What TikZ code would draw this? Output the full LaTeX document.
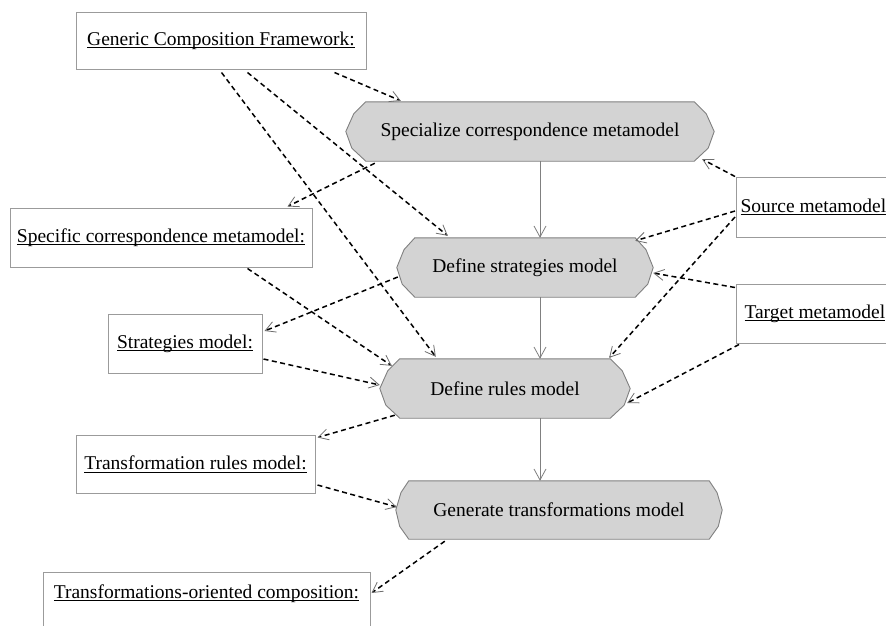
\documentclass[tikz,border=0pt]{standalone}
\usepackage{fontspec}
\setmainfont{Liberation Serif}
\usetikzlibrary{arrows.meta,calc,backgrounds}
\definecolor{actfillc}{RGB}{211,211,211}
\definecolor{actdrawc}{RGB}{128,128,128}
\definecolor{boxdrawc}{RGB}{155,155,155}
\definecolor{tipc}{RGB}{110,110,110}
\newcommand\myul[1]{\setbox0\hbox{#1}\rlap{\rule[-3pt]{\wd0}{0.8pt}}\box0}
\newcommand\actshape[2]{%
  \path[actbg] let \p1=(#1.north west), \p2=(#1.south east), \n2={\y1-\y2} in
   (\x1+#2pt,\y1) -- (\x2-#2pt,\y1) -- (\x2-0.4*#2pt,\y1-0.2*\n2*1pt) -- (\x2,\y1-0.5*\n2*1pt)
   -- (\x2-0.3*#2pt,\y1-0.78*\n2*1pt) -- (\x2-#2pt,\y2) -- (\x1+#2pt,\y2)
   -- (\x1+0.3*#2pt,\y1-0.78*\n2*1pt) -- (\x1,\y1-0.5*\n2*1pt) -- (\x1+0.4*#2pt,\y1-0.2*\n2*1pt) -- cycle;}
\begin{document}
\begin{tikzpicture}[x=1pt,y=-1pt,
  every node/.style={font=\fontsize{19.5}{22}\selectfont},
  act/.style={rectangle, inner sep=0pt},
  actbg/.style={fill=actfillc, draw=actdrawc, line width=0.9pt},
  box/.style={rectangle, draw=boxdrawc, fill=white, line width=1pt, inner sep=0pt},
  dep/.style={black, line width=1.5pt, dash pattern=on 5pt off 3.5pt,
    -{Straight Barb[length=10pt,width=11pt,line width=0.8pt,color=tipc]}},
  flow/.style={draw=actdrawc, line width=0.9pt,
    -{Straight Barb[length=11pt,width=12pt,line width=0.8pt]}}]
\useasboundingbox (0,0) rectangle (886,625);

% action states
\node[act, minimum width=368pt, minimum height=59pt] (spec) at (530,131.5) {Specialize correspondence metamodel};
\node[act, minimum width=256pt, minimum height=59pt] (strat) at (525,267.5) {Define strategies model};
\node[act, minimum width=250pt, minimum height=59pt] (rules) at (505,388.5) {Define rules model};
\node[act, minimum width=326pt, minimum height=58pt] (gen) at (559,510) {Generate transformations model};
\begin{scope}[on background layer]
  \fill[white] (0,0) rectangle (886,625);
  \actshape{spec}{20}
  \actshape{strat}{18}
  \actshape{rules}{20}
  \actshape{gen}{13}
\end{scope}

% object boxes
\node[box, minimum width=290pt, minimum height=57pt] (gcf) at (221,40.5) {\myul{Generic Composition Framework:}};
\node[box, minimum width=302pt, minimum height=59pt] (scm) at (161,237.5) {\myul{Specific correspondence metamodel:}};
\node[box, minimum width=154pt, minimum height=59pt] (sm) at (185,343.5) {\myul{Strategies model:}};
\node[box, minimum width=239pt, minimum height=58pt] (trm) at (195.5,464) {\myul{Transformation rules model:}};
\node[box, minimum width=327pt, minimum height=59pt, text height=13pt, text depth=20pt] (toc) at (206.5,601.5) {\myul{Transformations-oriented composition:}};
\node[box, anchor=west, inner xsep=4pt, minimum height=60pt] (src) at (736,207) {\myul{Source metamodels}};
\node[box, anchor=west, inner xsep=8pt, minimum height=59pt] (tgt) at (736,313.5) {\myul{Target metamodel}};

% control flow
\coordinate (vx) at (540,0);
\draw[flow] (spec.south -| vx) -- (strat.north -| vx);
\draw[flow] (strat.south -| vx) -- (rules.north -| vx);
\draw[flow] (rules.south -| vx) -- (gen.north -| vx);

% object flows
\draw[dep] ($(gcf.south west)+(259,3)$) -- ($(spec.north west)+(55,-1)$);
\draw[dep] ($(gcf.south west)+(172,3)$) -- ($(strat.north west)+(51,-2)$);
\draw[dep] ($(gcf.south west)+(146,3)$) -- ($(rules.north west)+(56,-2)$);
\draw[dep] ($(spec.south west)+(29,2)$) -- ($(scm.north east)+(-25,-1)$);
\draw[dep] ($(scm.south west)+(238,1)$) -- ($(rules.north west)+(12,7)$);
\draw[dep] ($(strat.west)+(1,9.5)$) -- ($(sm.east)+(2,-12.5)$);
\draw[dep] ($(sm.east)+(1,15.5)$) -- ($(rules.west)+(0,-3.5)$);
\draw[dep] ($(src.north west)+(-1,0)$) -- ($(spec.south east)+(-12,-2)$);
\draw[dep] ($(src.west)+(-1,4)$) -- ($(strat.north east)+(-18,3)$);
\draw[dep] ($(src.west)+(-1,10)$) -- ($(rules.north east)+(-21,-1)$);
\draw[dep] ($(tgt.north west)+(-1,4)$) -- ($(strat.east)+(0,5.5)$);
\draw[dep] ($(tgt.south west)+(3,1)$) -- ($(rules.east)+(-3,14.5)$);
\draw[dep] ($(rules.south west)+(15,-3)$) -- ($(trm.north east)+(2,3)$);
\draw[dep] ($(trm.east)+(2,21)$) -- ($(gen.west)+(1,-3)$);
\draw[dep] ($(gen.south west)+(49,2)$) -- ($(toc.east)+(1,-8.5)$);
\end{tikzpicture}
\end{document}
